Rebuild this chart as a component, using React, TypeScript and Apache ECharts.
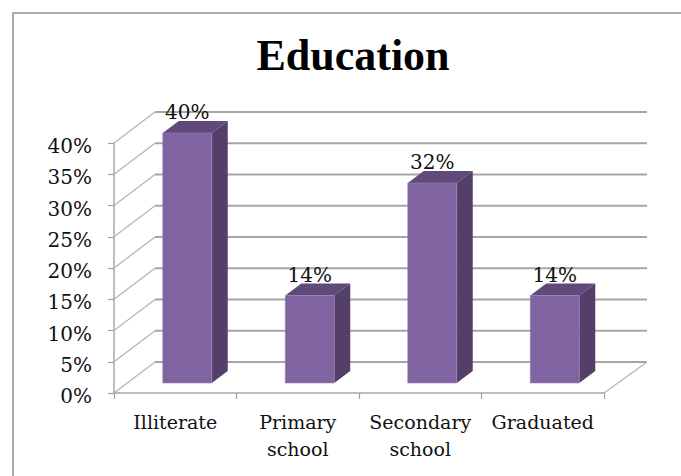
import React, { useEffect, useRef } from "react";
import * as echarts from "echarts";

const categories = ["Illiterate", "Primary\nschool", "Secondary\nschool", "Graduated"];
const values = [40, 14, 32, 14];
const gridTicks = [0, 5, 10, 15, 20, 25, 30, 35, 40];

const SERIF = "'DejaVu Serif', 'Liberation Serif', serif";
const TITLE_SERIF = "'Liberation Serif', serif";
const WALL_DX = 41;
const WALL_DY = -31;
const BAR_W = 49;
const BAR_DX = 12;
const BAR_DY = -10;
const DEPTH_X = 16;
const DEPTH_Y = -12;

export default function App() {
  const ref = useRef<HTMLDivElement>(null);
  useEffect(() => {
    document.body.style.margin = "0";
    const chart = echarts.init(ref.current!, null, { renderer: "svg" });
    chart.setOption({
      animation: false,
      backgroundColor: "#ffffff",
      title: {
        text: "Education",
        left: 348,
        top: 28,
        textAlign: "center",
        textStyle: { fontFamily: TITLE_SERIF, fontSize: 44, fontWeight: "bold", color: "#000000" },
      },
      graphic: [
        {
          type: "polyline",
          z: 0,
          shape: { points: [[13, 476], [13, 13], [681, 13]] },
          style: { stroke: "#8e8e8e", lineWidth: 1.5, fill: "none" },
        },
      ],
      grid: { left: 114, top: 143, width: 490, height: 250, containLabel: false },
      xAxis: {
        type: "category",
        data: categories,
        boundaryGap: true,
        axisLine: { show: true, lineStyle: { color: "#a8a8a8", width: 1.5 } },
        axisTick: { show: true, length: 6, alignWithLabel: false, lineStyle: { color: "#a0a0a0", width: 1.2 } },
        axisLabel: {
          interval: 0,
          margin: 15,
          fontFamily: SERIF,
          fontSize: 19,
          lineHeight: 27,
          color: "#111111",
        },
      },
      yAxis: {
        type: "value",
        min: 0,
        max: 40,
        interval: 5,
        splitLine: { show: false },
        axisLine: { show: true, lineStyle: { color: "#a8a8a8", width: 1.5 } },
        axisTick: { show: true, length: 6, lineStyle: { color: "#a0a0a0", width: 1.2 } },
        axisLabel: {
          formatter: "{value}%",
          margin: 22,
          verticalAlign: "top",
          lineHeight: 6,
          fontFamily: SERIF,
          fontSize: 20,
          color: "#111111",
        },
      },
      series: [
        {
          type: "custom",
          name: "walls",
          coordinateSystem: "cartesian2d",
          clip: false,
          z: 1,
          silent: true,
          encode: { x: 0, y: 1 },
          data: gridTicks.map((t) => [0, t]),
          renderItem: (params: any, api: any) => {
            const v = api.value(1);
            const y = api.coord([0, v])[1];
            const cs = params.coordSys;
            const left = cs.x;
            const right = cs.x + cs.width;
            const children: any[] = [
              {
                type: "line",
                shape: { x1: left, y1: y, x2: left + WALL_DX, y2: y + WALL_DY },
                style: { stroke: "#b4b4b4", lineWidth: 1.2 },
              },
              {
                type: "line",
                shape: { x1: left + WALL_DX, y1: y + WALL_DY, x2: right + WALL_DX + 2, y2: y + WALL_DY },
                style: { stroke: "#a6a6a6", lineWidth: 1.8 },
              },
            ];
            if (v === 0) {
              children.push({
                type: "line",
                shape: { x1: right, y1: y, x2: right + WALL_DX + 2, y2: y + WALL_DY },
                style: { stroke: "#b4b4b4", lineWidth: 1.2 },
              });
            }
            return { type: "group", children };
          },
        },
        {
          type: "custom",
          name: "Education",
          coordinateSystem: "cartesian2d",
          clip: false,
          z: 3,
          encode: { x: 0, y: 1 },
          data: values.map((v, i) => [i, v]),
          renderItem: (_params: any, api: any) => {
            const i = api.value(0);
            const v = api.value(1);
            const top = api.coord([i, v]);
            const base = api.coord([i, 0]);
            const x0 = top[0] + BAR_DX - BAR_W / 2;
            const x1 = x0 + BAR_W;
            const yT = top[1] + BAR_DY;
            const yB = base[1] + BAR_DY;
            return {
              type: "group",
              children: [
                {
                  type: "polygon",
                  shape: { points: [[x1, yT], [x1 + DEPTH_X, yT + DEPTH_Y], [x1 + DEPTH_X, yB + DEPTH_Y], [x1, yB]] },
                  style: { fill: "#533F68" },
                },
                {
                  type: "polygon",
                  shape: { points: [[x0, yT], [x0 + DEPTH_X, yT + DEPTH_Y], [x1 + DEPTH_X, yT + DEPTH_Y], [x1, yT]] },
                  style: { fill: "#604A7B" },
                },
                {
                  type: "rect",
                  shape: { x: x0, y: yT, width: BAR_W, height: yB - yT },
                  style: { fill: "#8064A2", stroke: "#9a83b5", lineWidth: 0.6 },
                },
                {
                  type: "text",
                  z2: 10,
                  style: {
                    x: x0 + BAR_W / 2,
                    y: yT - 21,
                    text: v + "%",
                    textAlign: "center",
                    textVerticalAlign: "middle",
                    fontFamily: SERIF,
                    fontSize: 20,
                    fill: "#111111",
                  },
                },
              ],
            };
          },
        },
      ],
    });
    return () => chart.dispose();
  }, []);
  return <div ref={ref} style={{ width: 681, height: 476 }} />;
}
